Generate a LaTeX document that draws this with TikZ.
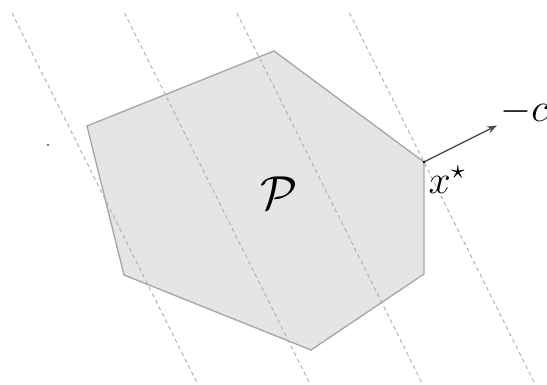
\documentclass[tikz,border=0pt]{standalone}
\usepackage{amsmath,amssymb}
\usetikzlibrary{arrows.meta}

\begin{document}
\begin{tikzpicture}[>={Stealth[length=3pt,width=2.2pt]}, scale=0.53,
    levelline/.style={gray!60, line width=0.3pt, dash pattern=on 1.2pt off 1pt}]
    \useasboundingbox (0,0) rectangle (10.94,7.7);

    % 多面体 P
    \filldraw[fill=gray!20, draw=gray!70, line width=0.4pt]
        (1.74,5.18) -- (5.48,6.68) -- (8.48,4.46) coordinate (xs)
        -- (8.48,2.22) -- (6.22,0.70) -- (2.48,2.20) -- cycle;
    \node (P) at (5.58,3.84) {\Large$\mathcal{P}$};

    % 目标函数等值线
    \foreach \x in {0.24, 2.49, 4.74, 6.99} {
        \draw[levelline] (\x, 7.44) -- ++(3.7, -7.4);
    }

    % 最优点 x^* 与方向 -c
    \coordinate (tip) at (9.94,5.19);
    \draw[->, black!70, line width=0.4pt] (xs) -- (tip);
    \fill (xs) circle (0.8pt);
    \node[below right, inner sep=1.2pt] (xl) at (xs) {\large$x^\star$};
    \node[anchor=south west, inner sep=0pt, xshift=0.8pt] (cl) at (tip) {\large$-c$};

    % 左侧小点
    \coordinate (o) at (0.96,4.8);
    \fill (o) circle (0.5pt);
\end{tikzpicture}
\end{document}
